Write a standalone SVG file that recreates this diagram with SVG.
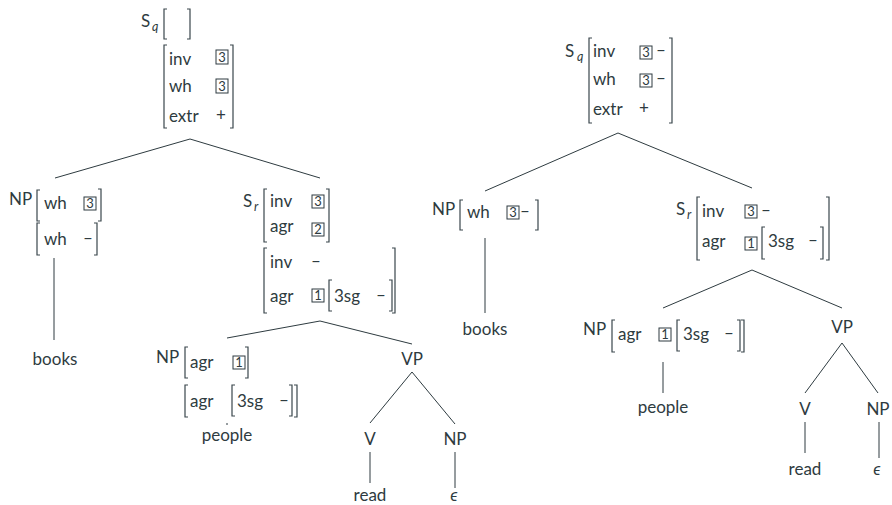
<svg xmlns="http://www.w3.org/2000/svg" width="892" height="505" viewBox="0 0 892 505">
  <style>
    text { font-family: "Lato", "Noto Sans", "DejaVu Sans", sans-serif; font-size: 17px; fill: #2e3b40; }
    .sub { font-size: 12.5px; font-style: italic; }
    .mid { text-anchor: middle; }
    .tag { font-size: 13px; text-anchor: middle; }
    .br { fill: none; stroke: #3a474c; stroke-width: 1.2; }
    .box { fill: none; stroke: #2e3b40; stroke-width: 1; }
    .edge { stroke: #2e3b40; stroke-width: 1; fill: none; }
  </style>

  <!-- tree edges -->
  <g id="connectors" class="edge">
    <line x1="190" y1="139" x2="55" y2="178"/>
    <line x1="190" y1="139" x2="320" y2="178"/>
    <line x1="54" y1="258" x2="54" y2="340"/>
    <line x1="320" y1="321" x2="227" y2="338"/>
    <line x1="320" y1="321" x2="412" y2="344"/>
    <line x1="227" y1="423" x2="227" y2="425"/>
    <line x1="412" y1="372" x2="370" y2="423"/>
    <line x1="412" y1="372" x2="455" y2="424"/>
    <line x1="370" y1="452" x2="370" y2="483"/>
    <line x1="455" y1="452" x2="455" y2="488"/>

    <line x1="618" y1="133" x2="485" y2="191"/>
    <line x1="618" y1="133" x2="752" y2="188"/>
    <line x1="485" y1="238" x2="485" y2="313"/>
    <line x1="752" y1="270" x2="663" y2="308"/>
    <line x1="752" y1="270" x2="842" y2="308"/>
    <line x1="663" y1="362" x2="663" y2="393"/>
    <line x1="842" y1="343" x2="805" y2="393"/>
    <line x1="842" y1="343" x2="878" y2="393"/>
    <line x1="805" y1="422" x2="805" y2="453"/>
    <line x1="879" y1="422" x2="879" y2="458"/>
  </g>

  <!-- left tree -->
  <g id="sq-left">
    <text x="141" y="27">S</text><text class="sub" x="152" y="31">q</text>
    <path class="br" d="M167 9H164V39H167"/>
    <path class="br" d="M187 9H190V39H187"/>
    <path class="br" d="M167 45H164V128H167"/>
    <path class="br" d="M230 45H233V128H230"/>
    <text x="169" y="65">inv</text>
    <rect class="box" x="216" y="50" width="12" height="14"/><text class="tag" x="222" y="61.8">3</text>
    <text x="169" y="92">wh</text>
    <rect class="box" x="216" y="79" width="12" height="14"/><text class="tag" x="222" y="90.8">3</text>
    <text x="169" y="122">extr</text>
    <text class="mid" x="221" y="121">+</text>
  </g>

  <g id="np-wh-left">
    <text x="9" y="205">NP</text>
    <path class="br" d="M40 190H37V221H40"/>
    <path class="br" d="M98 189H101V221H98"/>
    <text x="44" y="209">wh</text>
    <rect class="box" x="84" y="197" width="12" height="13"/><text class="tag" x="90" y="208">3</text>
    <path class="br" d="M40 223H37V255H40"/>
    <path class="br" d="M94 223H97V255H94"/>
    <text x="44" y="245">wh</text>
    <text class="mid" x="88" y="244">–</text>
  </g>

  <g id="books-left"><text class="mid" x="55" y="365">books</text></g>

  <g id="sr-left">
    <text x="243" y="207">S</text><text class="sub" x="254" y="211">r</text>
    <path class="br" d="M267 189H264V242H267"/>
    <path class="br" d="M326 189H329V242H326"/>
    <text x="270" y="207">inv</text>
    <rect class="box" x="312" y="195" width="12" height="13"/><text class="tag" x="318" y="206">3</text>
    <text x="270" y="232">agr</text>
    <rect class="box" x="312" y="223" width="12" height="13"/><text class="tag" x="318" y="234">2</text>
    <path class="br" d="M267 248H264V313H267"/>
    <path class="br" d="M392 248H395V313H392"/>
    <text x="270" y="268">inv</text>
    <text class="mid" x="316" y="267">–</text>
    <text x="270" y="302">agr</text>
    <rect class="box" x="312" y="289" width="12" height="13"/><text class="tag" x="318" y="300">1</text>
    <path class="br" d="M332 280H329V311H332"/>
    <path class="br" d="M389 280H392V311H389"/>
    <text x="334" y="302">3sg</text>
    <text class="mid" x="381" y="301">–</text>
  </g>

  <g id="np-agr-left">
    <text x="156" y="363">NP</text>
    <path class="br" d="M188 347H185V378H188"/>
    <path class="br" d="M245 347H248V378H245"/>
    <text x="190" y="368">agr</text>
    <rect class="box" x="233" y="356" width="12" height="13"/><text class="tag" x="239" y="367">1</text>
    <path class="br" d="M188 385H185V417H188"/>
    <path class="br" d="M294 385H297V417H294"/>
    <text x="190" y="407">agr</text>
    <path class="br" d="M235 385H232V416H235"/>
    <path class="br" d="M289 385H292V416H289"/>
    <text x="237" y="407">3sg</text>
    <text class="mid" x="284" y="406">–</text>
  </g>

  <g id="people-left"><text class="mid" x="227" y="441">people</text></g>
  <g id="vp-left"><text class="mid" x="412" y="365">VP</text></g>
  <g id="v-left"><text class="mid" x="370" y="445">V</text></g>
  <g id="np-gap-left"><text class="mid" x="455" y="445">NP</text></g>
  <g id="read-left"><text class="mid" x="370" y="501">read</text></g>
  <g id="eps-left"><text class="mid" x="454" y="501" font-style="italic">ϵ</text></g>

  <!-- right tree -->
  <g id="sq-right">
    <text x="565" y="57">S</text><text class="sub" x="577" y="61">q</text>
    <path class="br" d="M592 38H589V123H592"/>
    <path class="br" d="M669 38H672V123H669"/>
    <text x="593" y="57">inv</text>
    <rect class="box" x="640" y="46" width="12" height="13"/><text class="tag" x="646" y="57">3</text>
    <text class="mid" x="661" y="56">–</text>
    <text x="593" y="85">wh</text>
    <rect class="box" x="640" y="74" width="12" height="13"/><text class="tag" x="646" y="85">3</text>
    <text class="mid" x="661" y="84">–</text>
    <text x="593" y="115">extr</text>
    <text class="mid" x="644" y="114">+</text>
  </g>

  <g id="np-wh-right">
    <text x="432" y="215">NP</text>
    <path class="br" d="M463 200H460V230H463"/>
    <path class="br" d="M535 200H538V230H535"/>
    <text x="467" y="218">wh</text>
    <rect class="box" x="507" y="206" width="12" height="13"/><text class="tag" x="513" y="217">3</text>
    <text class="mid" x="525" y="217">–</text>
  </g>

  <g id="books-right"><text class="mid" x="485" y="335">books</text></g>

  <g id="sr-right">
    <text x="676" y="215">S</text><text class="sub" x="687" y="219">r</text>
    <path class="br" d="M700 197H697V260H700"/>
    <path class="br" d="M826 197H829V260H826"/>
    <text x="702" y="217">inv</text>
    <rect class="box" x="745" y="205" width="12" height="13"/><text class="tag" x="751" y="216">3</text>
    <text class="mid" x="766" y="216">–</text>
    <text x="702" y="247">agr</text>
    <rect class="box" x="745" y="237" width="12" height="13"/><text class="tag" x="751" y="248">1</text>
    <path class="br" d="M765 227H762V259H765"/>
    <path class="br" d="M820 227H823V259H820"/>
    <text x="768" y="247">3sg</text>
    <text class="mid" x="813" y="246">–</text>
  </g>

  <g id="np-agr-right">
    <text x="583" y="335">NP</text>
    <path class="br" d="M615 320H612V352H615"/>
    <path class="br" d="M741 320H744V352H741"/>
    <text x="618" y="340">agr</text>
    <rect class="box" x="659" y="328" width="12" height="13"/><text class="tag" x="665" y="339">1</text>
    <path class="br" d="M680 320H677V351H680"/>
    <path class="br" d="M737 320H740V351H737"/>
    <text x="683" y="340">3sg</text>
    <text class="mid" x="729" y="339">–</text>
  </g>

  <g id="people-right"><text class="mid" x="663" y="413">people</text></g>
  <g id="vp-right"><text class="mid" x="842" y="333">VP</text></g>
  <g id="v-right"><text class="mid" x="805" y="415">V</text></g>
  <g id="np-gap-right"><text class="mid" x="878" y="415">NP</text></g>
  <g id="read-right"><text class="mid" x="805" y="475">read</text></g>
  <g id="eps-right"><text class="mid" x="877" y="475" font-style="italic">ϵ</text></g>
</svg>
